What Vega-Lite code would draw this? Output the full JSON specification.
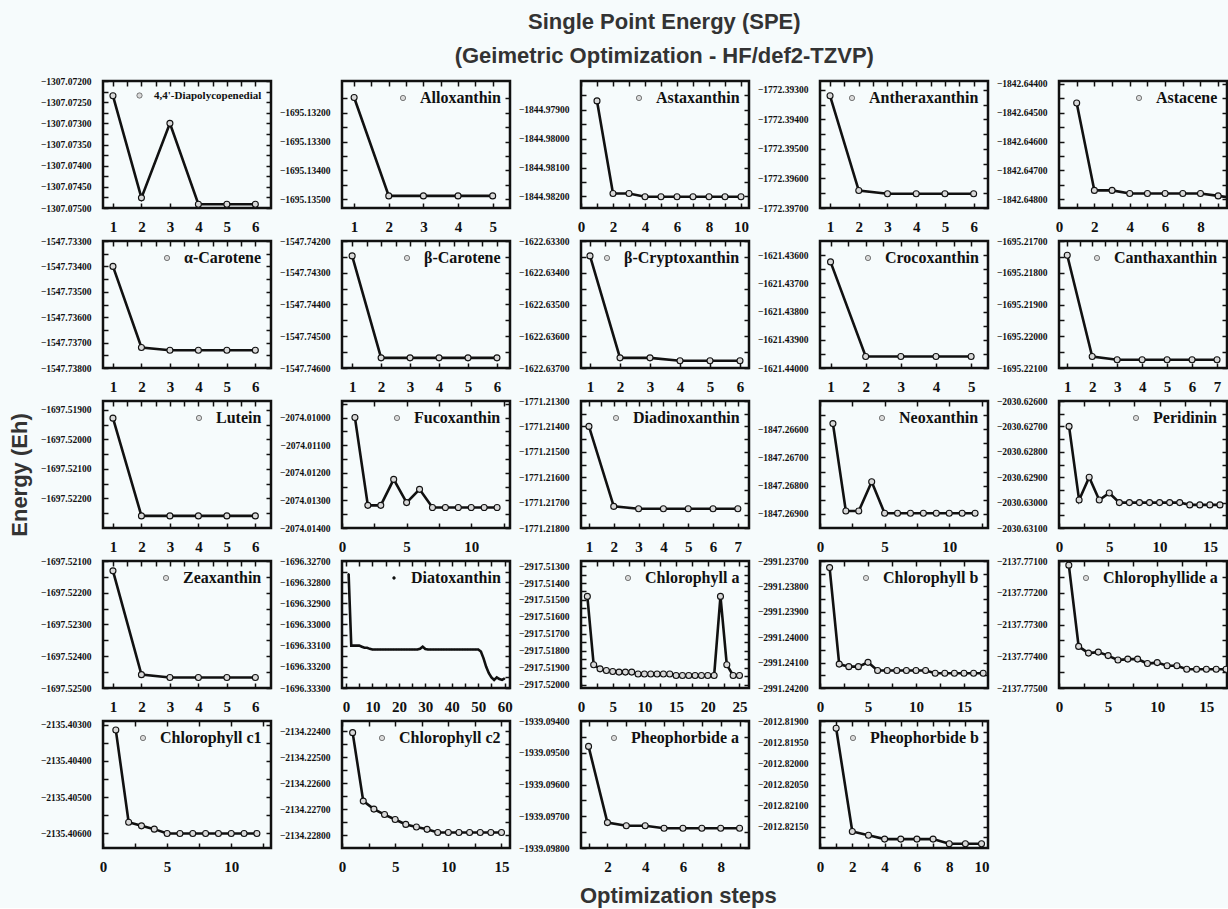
{
"$schema":"https://vega.github.io/schema/vega-lite/v6.json",
"background":"#f6fbfc",
"padding":{"left":8,"top":10,"right":0,"bottom":0},
"title":{"text":["Single Point Energy (SPE)","(Geimetric Optimization - HF/def2-TZVP)"],"fontSize":22,"lineHeight":34,"font":"Liberation Sans","fontWeight":"bold","color":"#333333","anchor":"middle","offset":7,"dx":40},
"vconcat":[{
"title":{"text":"Optimization steps","orient":"bottom","fontSize":22,"font":"Liberation Sans","fontWeight":"bold","color":"#333333","anchor":"middle","offset":11,"dx":54},
"vconcat":[{
"title":{"text":"Energy (Eh)","orient":"left","fontSize":22,"font":"Liberation Sans","fontWeight":"bold","color":"#333333","anchor":"middle","offset":7},
"columns":5,
"bounds":"flush",
"spacing":{"row":33,"column":71},
"resolve":{"scale":{"color":"independent"},"legend":{"color":"independent"}},
"concat":[
{"data":{"values":[{"s":1,"e":-1307.07235},{"s":2,"e":-1307.07476},{"s":3,"e":-1307.073},{"s":4,"e":-1307.07491},{"s":5,"e":-1307.07491},{"s":6,"e":-1307.07491}]},
"resolve":{"axis":{"x":"independent","y":"independent"}},
"layer":[
{"mark":{"type":"line","clip":true,"strokeWidth":2.6,"point":{"filled":false,"fill":"#d9d9d9","size":36,"strokeWidth":1.1}},
"encoding":{"x":{"field":"s","type":"quantitative","title":null,"scale":{"domain":[0.65,6.55],"nice":false,"zero":false},"axis":{"values":[1,1.5,2,2.5,3,3.5,4,4.5,5,5.5,6],"format":"d","labelExpr":"datum.value % 1 ? '' : datum.label"}},
"y":{"field":"e","type":"quantitative","title":null,"scale":{"domain":[-1307.075,-1307.072],"nice":false,"zero":false},"axis":{"values":[-1307.072,-1307.07225,-1307.0725,-1307.07275,-1307.073,-1307.07325,-1307.0735,-1307.07375,-1307.074,-1307.07425,-1307.0745,-1307.07475,-1307.075],"format":".5f","labelExpr":"round(datum.value*100000) % 50 ? '' : datum.label"}},
"color":{"datum":"4,4'-Diapolycopenedial","legend":{"labelFontSize":11}}}},
{"mark":{"type":"point","opacity":0},
"encoding":{"x":{"field":"s","type":"quantitative","title":null,"scale":{"domain":[0.65,6.55],"nice":false,"zero":false},"axis":{"orient":"top","values":[1,1.5,2,2.5,3,3.5,4,4.5,5,5.5,6]}},
"y":{"field":"e","type":"quantitative","title":null,"scale":{"domain":[-1307.075,-1307.072],"nice":false,"zero":false},"axis":{"orient":"right","values":[-1307.072,-1307.07225,-1307.0725,-1307.07275,-1307.073,-1307.07325,-1307.0735,-1307.07375,-1307.074,-1307.07425,-1307.0745,-1307.07475,-1307.075]}}}}]},
{"data":{"values":[{"s":1,"e":-1695.13147},{"s":2,"e":-1695.13488},{"s":3,"e":-1695.13488},{"s":4,"e":-1695.13488},{"s":5,"e":-1695.13488}]},
"resolve":{"axis":{"x":"independent","y":"independent"}},
"layer":[
{"mark":{"type":"line","clip":true,"strokeWidth":2.6,"point":{"filled":false,"fill":"#d9d9d9","size":36,"strokeWidth":1.1}},
"encoding":{"x":{"field":"s","type":"quantitative","title":null,"scale":{"domain":[0.65,5.5],"nice":false,"zero":false},"axis":{"values":[1,1.5,2,2.5,3,3.5,4,4.5,5],"format":"d","labelExpr":"datum.value % 1 ? '' : datum.label"}},
"y":{"field":"e","type":"quantitative","title":null,"scale":{"domain":[-1695.1353,-1695.1309],"nice":false,"zero":false},"axis":{"values":[-1695.1315,-1695.132,-1695.1325,-1695.133,-1695.1335,-1695.134,-1695.1345,-1695.135],"format":".5f","labelExpr":"round(datum.value*100000) % 100 ? '' : datum.label"}},
"color":{"datum":"Alloxanthin"}}},
{"mark":{"type":"point","opacity":0},
"encoding":{"x":{"field":"s","type":"quantitative","title":null,"scale":{"domain":[0.65,5.5],"nice":false,"zero":false},"axis":{"orient":"top","values":[1,1.5,2,2.5,3,3.5,4,4.5,5]}},
"y":{"field":"e","type":"quantitative","title":null,"scale":{"domain":[-1695.1353,-1695.1309],"nice":false,"zero":false},"axis":{"orient":"right","values":[-1695.1315,-1695.132,-1695.1325,-1695.133,-1695.1335,-1695.134,-1695.1345,-1695.135]}}}}]},
{"data":{"values":[{"s":1,"e":-1844.97869},{"s":2,"e":-1844.9819},{"s":3,"e":-1844.9819},{"s":4,"e":-1844.98201},{"s":5,"e":-1844.98201},{"s":6,"e":-1844.98201},{"s":7,"e":-1844.98201},{"s":8,"e":-1844.98201},{"s":9,"e":-1844.98201},{"s":10,"e":-1844.98201}]},
"resolve":{"axis":{"x":"independent","y":"independent"}},
"layer":[
{"mark":{"type":"line","clip":true,"strokeWidth":2.6,"point":{"filled":false,"fill":"#d9d9d9","size":36,"strokeWidth":1.1}},
"encoding":{"x":{"field":"s","type":"quantitative","title":null,"scale":{"domain":[0,10.5],"nice":false,"zero":false},"axis":{"values":[0,1,2,3,4,5,6,7,8,9,10],"format":"d","labelExpr":"datum.value % 2 ? '' : datum.label"}},
"y":{"field":"e","type":"quantitative","title":null,"scale":{"domain":[-1844.9824,-1844.978],"nice":false,"zero":false},"axis":{"values":[-1844.9785,-1844.979,-1844.9795,-1844.98,-1844.9805,-1844.981,-1844.9815,-1844.982],"format":".5f","labelExpr":"round(datum.value*100000) % 100 ? '' : datum.label"}},
"color":{"datum":"Astaxanthin"}}},
{"mark":{"type":"point","opacity":0},
"encoding":{"x":{"field":"s","type":"quantitative","title":null,"scale":{"domain":[0,10.5],"nice":false,"zero":false},"axis":{"orient":"top","values":[0,1,2,3,4,5,6,7,8,9,10]}},
"y":{"field":"e","type":"quantitative","title":null,"scale":{"domain":[-1844.9824,-1844.978],"nice":false,"zero":false},"axis":{"orient":"right","values":[-1844.9785,-1844.979,-1844.9795,-1844.98,-1844.9805,-1844.981,-1844.9815,-1844.982]}}}}]},
{"data":{"values":[{"s":1,"e":-1772.3932},{"s":2,"e":-1772.39641},{"s":3,"e":-1772.39652},{"s":4,"e":-1772.39652},{"s":5,"e":-1772.39652},{"s":6,"e":-1772.39652}]},
"resolve":{"axis":{"x":"independent","y":"independent"}},
"layer":[
{"mark":{"type":"line","clip":true,"strokeWidth":2.6,"point":{"filled":false,"fill":"#d9d9d9","size":36,"strokeWidth":1.1}},
"encoding":{"x":{"field":"s","type":"quantitative","title":null,"scale":{"domain":[0.65,6.5],"nice":false,"zero":false},"axis":{"values":[1,1.5,2,2.5,3,3.5,4,4.5,5,5.5,6],"format":"d","labelExpr":"datum.value % 1 ? '' : datum.label"}},
"y":{"field":"e","type":"quantitative","title":null,"scale":{"domain":[-1772.397,-1772.3927],"nice":false,"zero":false},"axis":{"values":[-1772.393,-1772.3935,-1772.394,-1772.3945,-1772.395,-1772.3955,-1772.396,-1772.3965,-1772.397],"format":".5f","labelExpr":"round(datum.value*100000) % 100 ? '' : datum.label"}},
"color":{"datum":"Antheraxanthin"}}},
{"mark":{"type":"point","opacity":0},
"encoding":{"x":{"field":"s","type":"quantitative","title":null,"scale":{"domain":[0.65,6.5],"nice":false,"zero":false},"axis":{"orient":"top","values":[1,1.5,2,2.5,3,3.5,4,4.5,5,5.5,6]}},
"y":{"field":"e","type":"quantitative","title":null,"scale":{"domain":[-1772.397,-1772.3927],"nice":false,"zero":false},"axis":{"orient":"right","values":[-1772.393,-1772.3935,-1772.394,-1772.3945,-1772.395,-1772.3955,-1772.396,-1772.3965,-1772.397]}}}}]},
{"data":{"values":[{"s":1,"e":-1842.64466},{"s":2,"e":-1842.64769},{"s":3,"e":-1842.64769},{"s":4,"e":-1842.6478},{"s":5,"e":-1842.6478},{"s":6,"e":-1842.6478},{"s":7,"e":-1842.6478},{"s":8,"e":-1842.6478},{"s":9,"e":-1842.64788},{"s":10,"e":-1842.64797}]},
"resolve":{"axis":{"x":"independent","y":"independent"}},
"layer":[
{"mark":{"type":"line","clip":true,"strokeWidth":2.6,"point":{"filled":false,"fill":"#d9d9d9","size":36,"strokeWidth":1.1}},
"encoding":{"x":{"field":"s","type":"quantitative","title":null,"scale":{"domain":[0,9.5],"nice":false,"zero":false},"axis":{"values":[0,1,2,3,4,5,6,7,8,9],"format":"d","labelExpr":"datum.value % 2 ? '' : datum.label"}},
"y":{"field":"e","type":"quantitative","title":null,"scale":{"domain":[-1842.6483,-1842.6439],"nice":false,"zero":false},"axis":{"values":[-1842.644,-1842.6445,-1842.645,-1842.6455,-1842.646,-1842.6465,-1842.647,-1842.6475,-1842.648],"format":".5f","labelExpr":"round(datum.value*100000) % 100 ? '' : datum.label"}},
"color":{"datum":"Astacene"}}},
{"mark":{"type":"point","opacity":0},
"encoding":{"x":{"field":"s","type":"quantitative","title":null,"scale":{"domain":[0,9.5],"nice":false,"zero":false},"axis":{"orient":"top","values":[0,1,2,3,4,5,6,7,8,9]}},
"y":{"field":"e","type":"quantitative","title":null,"scale":{"domain":[-1842.6483,-1842.6439],"nice":false,"zero":false},"axis":{"orient":"right","values":[-1842.644,-1842.6445,-1842.645,-1842.6455,-1842.646,-1842.6465,-1842.647,-1842.6475,-1842.648]}}}}]},
{"data":{"values":[{"s":1,"e":-1547.734},{"s":2,"e":-1547.73719},{"s":3,"e":-1547.7373},{"s":4,"e":-1547.7373},{"s":5,"e":-1547.7373},{"s":6,"e":-1547.7373}]},
"resolve":{"axis":{"x":"independent","y":"independent"}},
"layer":[
{"mark":{"type":"line","clip":true,"strokeWidth":2.6,"point":{"filled":false,"fill":"#d9d9d9","size":36,"strokeWidth":1.1}},
"encoding":{"x":{"field":"s","type":"quantitative","title":null,"scale":{"domain":[0.65,6.55],"nice":false,"zero":false},"axis":{"values":[1,1.5,2,2.5,3,3.5,4,4.5,5,5.5,6],"format":"d","labelExpr":"datum.value % 1 ? '' : datum.label"}},
"y":{"field":"e","type":"quantitative","title":null,"scale":{"domain":[-1547.738,-1547.733],"nice":false,"zero":false},"axis":{"values":[-1547.733,-1547.7335,-1547.734,-1547.7345,-1547.735,-1547.7355,-1547.736,-1547.7365,-1547.737,-1547.7375,-1547.738],"format":".5f","labelExpr":"round(datum.value*100000) % 100 ? '' : datum.label"}},
"color":{"datum":"α-Carotene"}}},
{"mark":{"type":"point","opacity":0},
"encoding":{"x":{"field":"s","type":"quantitative","title":null,"scale":{"domain":[0.65,6.55],"nice":false,"zero":false},"axis":{"orient":"top","values":[1,1.5,2,2.5,3,3.5,4,4.5,5,5.5,6]}},
"y":{"field":"e","type":"quantitative","title":null,"scale":{"domain":[-1547.738,-1547.733],"nice":false,"zero":false},"axis":{"orient":"right","values":[-1547.733,-1547.7335,-1547.734,-1547.7345,-1547.735,-1547.7355,-1547.736,-1547.7365,-1547.737,-1547.7375,-1547.738]}}}}]},
{"data":{"values":[{"s":1,"e":-1547.74247},{"s":2,"e":-1547.74568},{"s":3,"e":-1547.74568},{"s":4,"e":-1547.74568},{"s":5,"e":-1547.74568},{"s":6,"e":-1547.74568}]},
"resolve":{"axis":{"x":"independent","y":"independent"}},
"layer":[
{"mark":{"type":"line","clip":true,"strokeWidth":2.6,"point":{"filled":false,"fill":"#d9d9d9","size":36,"strokeWidth":1.1}},
"encoding":{"x":{"field":"s","type":"quantitative","title":null,"scale":{"domain":[0.65,6.45],"nice":false,"zero":false},"axis":{"values":[1,1.5,2,2.5,3,3.5,4,4.5,5,5.5,6],"format":"d","labelExpr":"datum.value % 1 ? '' : datum.label"}},
"y":{"field":"e","type":"quantitative","title":null,"scale":{"domain":[-1547.746,-1547.742],"nice":false,"zero":false},"axis":{"values":[-1547.742,-1547.7425,-1547.743,-1547.7435,-1547.744,-1547.7445,-1547.745,-1547.7455,-1547.746],"format":".5f","labelExpr":"round(datum.value*100000) % 100 ? '' : datum.label"}},
"color":{"datum":"β-Carotene"}}},
{"mark":{"type":"point","opacity":0},
"encoding":{"x":{"field":"s","type":"quantitative","title":null,"scale":{"domain":[0.65,6.45],"nice":false,"zero":false},"axis":{"orient":"top","values":[1,1.5,2,2.5,3,3.5,4,4.5,5,5.5,6]}},
"y":{"field":"e","type":"quantitative","title":null,"scale":{"domain":[-1547.746,-1547.742],"nice":false,"zero":false},"axis":{"orient":"right","values":[-1547.742,-1547.7425,-1547.743,-1547.7435,-1547.744,-1547.7445,-1547.745,-1547.7455,-1547.746]}}}}]},
{"data":{"values":[{"s":1,"e":-1622.63347},{"s":2,"e":-1622.63668},{"s":3,"e":-1622.63668},{"s":4,"e":-1622.63677},{"s":5,"e":-1622.63677},{"s":6,"e":-1622.63677}]},
"resolve":{"axis":{"x":"independent","y":"independent"}},
"layer":[
{"mark":{"type":"line","clip":true,"strokeWidth":2.6,"point":{"filled":false,"fill":"#d9d9d9","size":36,"strokeWidth":1.1}},
"encoding":{"x":{"field":"s","type":"quantitative","title":null,"scale":{"domain":[0.7,6.3],"nice":false,"zero":false},"axis":{"values":[1,1.5,2,2.5,3,3.5,4,4.5,5,5.5,6],"format":"d","labelExpr":"datum.value % 1 ? '' : datum.label"}},
"y":{"field":"e","type":"quantitative","title":null,"scale":{"domain":[-1622.637,-1622.633],"nice":false,"zero":false},"axis":{"values":[-1622.633,-1622.6335,-1622.634,-1622.6345,-1622.635,-1622.6355,-1622.636,-1622.6365,-1622.637],"format":".5f","labelExpr":"round(datum.value*100000) % 100 ? '' : datum.label"}},
"color":{"datum":"β-Cryptoxanthin"}}},
{"mark":{"type":"point","opacity":0},
"encoding":{"x":{"field":"s","type":"quantitative","title":null,"scale":{"domain":[0.7,6.3],"nice":false,"zero":false},"axis":{"orient":"top","values":[1,1.5,2,2.5,3,3.5,4,4.5,5,5.5,6]}},
"y":{"field":"e","type":"quantitative","title":null,"scale":{"domain":[-1622.637,-1622.633],"nice":false,"zero":false},"axis":{"orient":"right","values":[-1622.633,-1622.6335,-1622.634,-1622.6345,-1622.635,-1622.6355,-1622.636,-1622.6365,-1622.637]}}}}]},
{"data":{"values":[{"s":1,"e":-1621.43624},{"s":2,"e":-1621.43959},{"s":3,"e":-1621.43959},{"s":4,"e":-1621.43959},{"s":5,"e":-1621.43959}]},
"resolve":{"axis":{"x":"independent","y":"independent"}},
"layer":[
{"mark":{"type":"line","clip":true,"strokeWidth":2.6,"point":{"filled":false,"fill":"#d9d9d9","size":36,"strokeWidth":1.1}},
"encoding":{"x":{"field":"s","type":"quantitative","title":null,"scale":{"domain":[0.7,5.48],"nice":false,"zero":false},"axis":{"values":[1,1.5,2,2.5,3,3.5,4,4.5,5],"format":"d","labelExpr":"datum.value % 1 ? '' : datum.label"}},
"y":{"field":"e","type":"quantitative","title":null,"scale":{"domain":[-1621.44,-1621.4355],"nice":false,"zero":false},"axis":{"values":[-1621.436,-1621.4365,-1621.437,-1621.4375,-1621.438,-1621.4385,-1621.439,-1621.4395,-1621.44],"format":".5f","labelExpr":"round(datum.value*100000) % 100 ? '' : datum.label"}},
"color":{"datum":"Crocoxanthin"}}},
{"mark":{"type":"point","opacity":0},
"encoding":{"x":{"field":"s","type":"quantitative","title":null,"scale":{"domain":[0.7,5.48],"nice":false,"zero":false},"axis":{"orient":"top","values":[1,1.5,2,2.5,3,3.5,4,4.5,5]}},
"y":{"field":"e","type":"quantitative","title":null,"scale":{"domain":[-1621.44,-1621.4355],"nice":false,"zero":false},"axis":{"orient":"right","values":[-1621.436,-1621.4365,-1621.437,-1621.4375,-1621.438,-1621.4385,-1621.439,-1621.4395,-1621.44]}}}}]},
{"data":{"values":[{"s":1,"e":-1695.21745},{"s":2,"e":-1695.22064},{"s":3,"e":-1695.22074},{"s":4,"e":-1695.22074},{"s":5,"e":-1695.22074},{"s":6,"e":-1695.22074},{"s":7,"e":-1695.22074}]},
"resolve":{"axis":{"x":"independent","y":"independent"}},
"layer":[
{"mark":{"type":"line","clip":true,"strokeWidth":2.6,"point":{"filled":false,"fill":"#d9d9d9","size":36,"strokeWidth":1.1}},
"encoding":{"x":{"field":"s","type":"quantitative","title":null,"scale":{"domain":[0.67,7.4],"nice":false,"zero":false},"axis":{"values":[1,1.5,2,2.5,3,3.5,4,4.5,5,5.5,6,6.5,7],"format":"d","labelExpr":"datum.value % 1 ? '' : datum.label"}},
"y":{"field":"e","type":"quantitative","title":null,"scale":{"domain":[-1695.221,-1695.217],"nice":false,"zero":false},"axis":{"values":[-1695.217,-1695.2175,-1695.218,-1695.2185,-1695.219,-1695.2195,-1695.22,-1695.2205,-1695.221],"format":".5f","labelExpr":"round(datum.value*100000) % 100 ? '' : datum.label"}},
"color":{"datum":"Canthaxanthin"}}},
{"mark":{"type":"point","opacity":0},
"encoding":{"x":{"field":"s","type":"quantitative","title":null,"scale":{"domain":[0.67,7.4],"nice":false,"zero":false},"axis":{"orient":"top","values":[1,1.5,2,2.5,3,3.5,4,4.5,5,5.5,6,6.5,7]}},
"y":{"field":"e","type":"quantitative","title":null,"scale":{"domain":[-1695.221,-1695.217],"nice":false,"zero":false},"axis":{"orient":"right","values":[-1695.217,-1695.2175,-1695.218,-1695.2185,-1695.219,-1695.2195,-1695.22,-1695.2205,-1695.221]}}}}]},
{"data":{"values":[{"s":1,"e":-1697.51928},{"s":2,"e":-1697.52259},{"s":3,"e":-1697.52259},{"s":4,"e":-1697.52259},{"s":5,"e":-1697.52259},{"s":6,"e":-1697.52259}]},
"resolve":{"axis":{"x":"independent","y":"independent"}},
"layer":[
{"mark":{"type":"line","clip":true,"strokeWidth":2.6,"point":{"filled":false,"fill":"#d9d9d9","size":36,"strokeWidth":1.1}},
"encoding":{"x":{"field":"s","type":"quantitative","title":null,"scale":{"domain":[0.65,6.55],"nice":false,"zero":false},"axis":{"values":[1,1.5,2,2.5,3,3.5,4,4.5,5,5.5,6],"format":"d","labelExpr":"datum.value % 1 ? '' : datum.label"}},
"y":{"field":"e","type":"quantitative","title":null,"scale":{"domain":[-1697.523,-1697.5187],"nice":false,"zero":false},"axis":{"values":[-1697.519,-1697.5195,-1697.52,-1697.5205,-1697.521,-1697.5215,-1697.522,-1697.5225],"format":".5f","labelExpr":"round(datum.value*100000) % 100 ? '' : datum.label"}},
"color":{"datum":"Lutein"}}},
{"mark":{"type":"point","opacity":0},
"encoding":{"x":{"field":"s","type":"quantitative","title":null,"scale":{"domain":[0.65,6.55],"nice":false,"zero":false},"axis":{"orient":"top","values":[1,1.5,2,2.5,3,3.5,4,4.5,5,5.5,6]}},
"y":{"field":"e","type":"quantitative","title":null,"scale":{"domain":[-1697.523,-1697.5187],"nice":false,"zero":false},"axis":{"orient":"right","values":[-1697.519,-1697.5195,-1697.52,-1697.5205,-1697.521,-1697.5215,-1697.522,-1697.5225]}}}}]},
{"data":{"values":[{"s":1,"e":-2074.01},{"s":2,"e":-2074.01318},{"s":3,"e":-2074.01318},{"s":4,"e":-2074.01224},{"s":5,"e":-2074.01308},{"s":6,"e":-2074.0126},{"s":7,"e":-2074.01326},{"s":8,"e":-2074.01326},{"s":9,"e":-2074.01326},{"s":10,"e":-2074.01326},{"s":11,"e":-2074.01326},{"s":12,"e":-2074.01326}]},
"resolve":{"axis":{"x":"independent","y":"independent"}},
"layer":[
{"mark":{"type":"line","clip":true,"strokeWidth":2.6,"point":{"filled":false,"fill":"#d9d9d9","size":36,"strokeWidth":1.1}},
"encoding":{"x":{"field":"s","type":"quantitative","title":null,"scale":{"domain":[0,13],"nice":false,"zero":false},"axis":{"values":[0,2.5,5,7.5,10,12.5],"format":"d","labelExpr":"datum.value % 5 ? '' : datum.label"}},
"y":{"field":"e","type":"quantitative","title":null,"scale":{"domain":[-2074.014,-2074.0094],"nice":false,"zero":false},"axis":{"values":[-2074.0095,-2074.01,-2074.0105,-2074.011,-2074.0115,-2074.012,-2074.0125,-2074.013,-2074.0135,-2074.014],"format":".5f","labelExpr":"round(datum.value*100000) % 100 ? '' : datum.label"}},
"color":{"datum":"Fucoxanthin"}}},
{"mark":{"type":"point","opacity":0},
"encoding":{"x":{"field":"s","type":"quantitative","title":null,"scale":{"domain":[0,13],"nice":false,"zero":false},"axis":{"orient":"top","values":[0,2.5,5,7.5,10,12.5]}},
"y":{"field":"e","type":"quantitative","title":null,"scale":{"domain":[-2074.014,-2074.0094],"nice":false,"zero":false},"axis":{"orient":"right","values":[-2074.0095,-2074.01,-2074.0105,-2074.011,-2074.0115,-2074.012,-2074.0125,-2074.013,-2074.0135,-2074.014]}}}}]},
{"data":{"values":[{"s":1,"e":-1771.214},{"s":2,"e":-1771.21715},{"s":3,"e":-1771.21724},{"s":4,"e":-1771.21724},{"s":5,"e":-1771.21724},{"s":6,"e":-1771.21724},{"s":7,"e":-1771.21724}]},
"resolve":{"axis":{"x":"independent","y":"independent"}},
"layer":[
{"mark":{"type":"line","clip":true,"strokeWidth":2.6,"point":{"filled":false,"fill":"#d9d9d9","size":36,"strokeWidth":1.1}},
"encoding":{"x":{"field":"s","type":"quantitative","title":null,"scale":{"domain":[0.68,7.45],"nice":false,"zero":false},"axis":{"values":[1,1.5,2,2.5,3,3.5,4,4.5,5,5.5,6,6.5,7],"format":"d","labelExpr":"datum.value % 1 ? '' : datum.label"}},
"y":{"field":"e","type":"quantitative","title":null,"scale":{"domain":[-1771.218,-1771.213],"nice":false,"zero":false},"axis":{"values":[-1771.213,-1771.2135,-1771.214,-1771.2145,-1771.215,-1771.2155,-1771.216,-1771.2165,-1771.217,-1771.2175,-1771.218],"format":".5f","labelExpr":"round(datum.value*100000) % 100 ? '' : datum.label"}},
"color":{"datum":"Diadinoxanthin"}}},
{"mark":{"type":"point","opacity":0},
"encoding":{"x":{"field":"s","type":"quantitative","title":null,"scale":{"domain":[0.68,7.45],"nice":false,"zero":false},"axis":{"orient":"top","values":[1,1.5,2,2.5,3,3.5,4,4.5,5,5.5,6,6.5,7]}},
"y":{"field":"e","type":"quantitative","title":null,"scale":{"domain":[-1771.218,-1771.213],"nice":false,"zero":false},"axis":{"orient":"right","values":[-1771.213,-1771.2135,-1771.214,-1771.2145,-1771.215,-1771.2155,-1771.216,-1771.2165,-1771.217,-1771.2175,-1771.218]}}}}]},
{"data":{"values":[{"s":1,"e":-1847.2658},{"s":2,"e":-1847.2689},{"s":3,"e":-1847.2689},{"s":4,"e":-1847.26786},{"s":5,"e":-1847.26898},{"s":6,"e":-1847.26898},{"s":7,"e":-1847.26898},{"s":8,"e":-1847.26898},{"s":9,"e":-1847.26898},{"s":10,"e":-1847.26898},{"s":11,"e":-1847.26898},{"s":12,"e":-1847.26898}]},
"resolve":{"axis":{"x":"independent","y":"independent"}},
"layer":[
{"mark":{"type":"line","clip":true,"strokeWidth":2.6,"point":{"filled":false,"fill":"#d9d9d9","size":36,"strokeWidth":1.1}},
"encoding":{"x":{"field":"s","type":"quantitative","title":null,"scale":{"domain":[0,13],"nice":false,"zero":false},"axis":{"values":[0,2.5,5,7.5,10,12.5],"format":"d","labelExpr":"datum.value % 5 ? '' : datum.label"}},
"y":{"field":"e","type":"quantitative","title":null,"scale":{"domain":[-1847.2695,-1847.265],"nice":false,"zero":false},"axis":{"values":[-1847.2655,-1847.266,-1847.2665,-1847.267,-1847.2675,-1847.268,-1847.2685,-1847.269],"format":".5f","labelExpr":"round(datum.value*100000) % 100 ? '' : datum.label"}},
"color":{"datum":"Neoxanthin"}}},
{"mark":{"type":"point","opacity":0},
"encoding":{"x":{"field":"s","type":"quantitative","title":null,"scale":{"domain":[0,13],"nice":false,"zero":false},"axis":{"orient":"top","values":[0,2.5,5,7.5,10,12.5]}},
"y":{"field":"e","type":"quantitative","title":null,"scale":{"domain":[-1847.2695,-1847.265],"nice":false,"zero":false},"axis":{"orient":"right","values":[-1847.2655,-1847.266,-1847.2665,-1847.267,-1847.2675,-1847.268,-1847.2685,-1847.269]}}}}]},
{"data":{"values":[{"s":1,"e":-2030.627},{"s":2,"e":-2030.6299},{"s":3,"e":-2030.629},{"s":4,"e":-2030.6299},{"s":5,"e":-2030.62962},{"s":6,"e":-2030.63},{"s":7,"e":-2030.63},{"s":8,"e":-2030.63},{"s":9,"e":-2030.63},{"s":10,"e":-2030.63},{"s":11,"e":-2030.63},{"s":12,"e":-2030.63},{"s":13,"e":-2030.63009},{"s":14,"e":-2030.63009},{"s":15,"e":-2030.63009},{"s":16,"e":-2030.63009}]},
"resolve":{"axis":{"x":"independent","y":"independent"}},
"layer":[
{"mark":{"type":"line","clip":true,"strokeWidth":2.6,"point":{"filled":false,"fill":"#d9d9d9","size":36,"strokeWidth":1.1}},
"encoding":{"x":{"field":"s","type":"quantitative","title":null,"scale":{"domain":[0,16.7],"nice":false,"zero":false},"axis":{"values":[0,2.5,5,7.5,10,12.5,15],"format":"d","labelExpr":"datum.value % 5 ? '' : datum.label"}},
"y":{"field":"e","type":"quantitative","title":null,"scale":{"domain":[-2030.631,-2030.626],"nice":false,"zero":false},"axis":{"values":[-2030.626,-2030.6265,-2030.627,-2030.6275,-2030.628,-2030.6285,-2030.629,-2030.6295,-2030.63,-2030.6305,-2030.631],"format":".5f","labelExpr":"round(datum.value*100000) % 100 ? '' : datum.label"}},
"color":{"datum":"Peridinin"}}},
{"mark":{"type":"point","opacity":0},
"encoding":{"x":{"field":"s","type":"quantitative","title":null,"scale":{"domain":[0,16.7],"nice":false,"zero":false},"axis":{"orient":"top","values":[0,2.5,5,7.5,10,12.5,15]}},
"y":{"field":"e","type":"quantitative","title":null,"scale":{"domain":[-2030.631,-2030.626],"nice":false,"zero":false},"axis":{"orient":"right","values":[-2030.626,-2030.6265,-2030.627,-2030.6275,-2030.628,-2030.6285,-2030.629,-2030.6295,-2030.63,-2030.6305,-2030.631]}}}}]},
{"data":{"values":[{"s":1,"e":-1697.52131},{"s":2,"e":-1697.52458},{"s":3,"e":-1697.52467},{"s":4,"e":-1697.52467},{"s":5,"e":-1697.52467},{"s":6,"e":-1697.52467}]},
"resolve":{"axis":{"x":"independent","y":"independent"}},
"layer":[
{"mark":{"type":"line","clip":true,"strokeWidth":2.6,"point":{"filled":false,"fill":"#d9d9d9","size":36,"strokeWidth":1.1}},
"encoding":{"x":{"field":"s","type":"quantitative","title":null,"scale":{"domain":[0.65,6.55],"nice":false,"zero":false},"axis":{"values":[1,1.5,2,2.5,3,3.5,4,4.5,5,5.5,6],"format":"d","labelExpr":"datum.value % 1 ? '' : datum.label"}},
"y":{"field":"e","type":"quantitative","title":null,"scale":{"domain":[-1697.525,-1697.521],"nice":false,"zero":false},"axis":{"values":[-1697.521,-1697.5215,-1697.522,-1697.5225,-1697.523,-1697.5235,-1697.524,-1697.5245,-1697.525],"format":".5f","labelExpr":"round(datum.value*100000) % 100 ? '' : datum.label"}},
"color":{"datum":"Zeaxanthin"}}},
{"mark":{"type":"point","opacity":0},
"encoding":{"x":{"field":"s","type":"quantitative","title":null,"scale":{"domain":[0.65,6.55],"nice":false,"zero":false},"axis":{"orient":"top","values":[1,1.5,2,2.5,3,3.5,4,4.5,5,5.5,6]}},
"y":{"field":"e","type":"quantitative","title":null,"scale":{"domain":[-1697.525,-1697.521],"nice":false,"zero":false},"axis":{"orient":"right","values":[-1697.521,-1697.5215,-1697.522,-1697.5225,-1697.523,-1697.5235,-1697.524,-1697.5245,-1697.525]}}}}]},
{"data":{"values":[{"s":1,"e":-1696.3276},{"s":2,"e":-1696.331},{"s":3,"e":-1696.331},{"s":4,"e":-1696.331},{"s":5,"e":-1696.331},{"s":6,"e":-1696.33105},{"s":7,"e":-1696.3311},{"s":8,"e":-1696.3311},{"s":9,"e":-1696.33115},{"s":10,"e":-1696.33118},{"s":11,"e":-1696.33118},{"s":12,"e":-1696.33118},{"s":13,"e":-1696.33118},{"s":14,"e":-1696.33118},{"s":15,"e":-1696.33118},{"s":16,"e":-1696.33118},{"s":17,"e":-1696.33118},{"s":18,"e":-1696.33118},{"s":19,"e":-1696.33118},{"s":20,"e":-1696.33118},{"s":21,"e":-1696.33118},{"s":22,"e":-1696.33118},{"s":23,"e":-1696.33118},{"s":24,"e":-1696.33118},{"s":25,"e":-1696.33118},{"s":26,"e":-1696.33118},{"s":27,"e":-1696.33118},{"s":28,"e":-1696.33115},{"s":29,"e":-1696.33105},{"s":30,"e":-1696.33116},{"s":31,"e":-1696.33118},{"s":32,"e":-1696.33118},{"s":33,"e":-1696.33118},{"s":34,"e":-1696.33118},{"s":35,"e":-1696.33118},{"s":36,"e":-1696.33118},{"s":37,"e":-1696.33118},{"s":38,"e":-1696.33118},{"s":39,"e":-1696.33118},{"s":40,"e":-1696.33118},{"s":41,"e":-1696.33118},{"s":42,"e":-1696.33118},{"s":43,"e":-1696.33118},{"s":44,"e":-1696.33118},{"s":45,"e":-1696.33118},{"s":46,"e":-1696.33118},{"s":47,"e":-1696.33118},{"s":48,"e":-1696.33118},{"s":49,"e":-1696.33118},{"s":50,"e":-1696.33118},{"s":51,"e":-1696.33128},{"s":52,"e":-1696.3316},{"s":53,"e":-1696.332},{"s":54,"e":-1696.3323},{"s":55,"e":-1696.3325},{"s":56,"e":-1696.33262},{"s":57,"e":-1696.3325},{"s":58,"e":-1696.33258},{"s":59,"e":-1696.33262},{"s":60,"e":-1696.33255}]},
"resolve":{"axis":{"x":"independent","y":"independent"}},
"layer":[
{"mark":{"type":"line","clip":true,"strokeWidth":2.6,"point":{"filled":true,"fill":"#111111","size":2,"strokeWidth":0}},
"encoding":{"x":{"field":"s","type":"quantitative","title":null,"scale":{"domain":[-1.5,62],"nice":false,"zero":false},"axis":{"values":[0,5,10,15,20,25,30,35,40,45,50,55,60],"format":"d","labelExpr":"datum.value % 10 ? '' : datum.label"}},
"y":{"field":"e","type":"quantitative","title":null,"scale":{"domain":[-1696.333,-1696.327],"nice":false,"zero":false},"axis":{"values":[-1696.327,-1696.3275,-1696.328,-1696.3285,-1696.329,-1696.3295,-1696.33,-1696.3305,-1696.331,-1696.3315,-1696.332,-1696.3325,-1696.333],"format":".5f","labelExpr":"round(datum.value*100000) % 100 ? '' : datum.label"}},
"color":{"datum":"Diatoxanthin","legend":{"symbolSize":8}}}},
{"mark":{"type":"point","opacity":0},
"encoding":{"x":{"field":"s","type":"quantitative","title":null,"scale":{"domain":[-1.5,62],"nice":false,"zero":false},"axis":{"orient":"top","values":[0,5,10,15,20,25,30,35,40,45,50,55,60]}},
"y":{"field":"e","type":"quantitative","title":null,"scale":{"domain":[-1696.333,-1696.327],"nice":false,"zero":false},"axis":{"orient":"right","values":[-1696.327,-1696.3275,-1696.328,-1696.3285,-1696.329,-1696.3295,-1696.33,-1696.3305,-1696.331,-1696.3315,-1696.332,-1696.3325,-1696.333]}}}}]},
{"data":{"values":[{"s":1,"e":-2917.51479},{"s":2,"e":-2917.51883},{"s":3,"e":-2917.51907},{"s":4,"e":-2917.51917},{"s":5,"e":-2917.51923},{"s":6,"e":-2917.51926},{"s":7,"e":-2917.51926},{"s":8,"e":-2917.51926},{"s":9,"e":-2917.51937},{"s":10,"e":-2917.51937},{"s":11,"e":-2917.51937},{"s":12,"e":-2917.51937},{"s":13,"e":-2917.51937},{"s":14,"e":-2917.51937},{"s":15,"e":-2917.51946},{"s":16,"e":-2917.51946},{"s":17,"e":-2917.51946},{"s":18,"e":-2917.51946},{"s":19,"e":-2917.51946},{"s":20,"e":-2917.51946},{"s":21,"e":-2917.51946},{"s":22,"e":-2917.51479},{"s":23,"e":-2917.51883},{"s":24,"e":-2917.51946},{"s":25,"e":-2917.51946}]},
"resolve":{"axis":{"x":"independent","y":"independent"}},
"layer":[
{"mark":{"type":"line","clip":true,"strokeWidth":2.6,"point":{"filled":false,"fill":"#d9d9d9","size":36,"strokeWidth":1.1}},
"encoding":{"x":{"field":"s","type":"quantitative","title":null,"scale":{"domain":[0,26.5],"nice":false,"zero":false},"axis":{"values":[0,2.5,5,7.5,10,12.5,15,17.5,20,22.5,25],"format":"d","labelExpr":"datum.value % 5 ? '' : datum.label"}},
"y":{"field":"e","type":"quantitative","title":null,"scale":{"domain":[-2917.5202,-2917.5127],"nice":false,"zero":false},"axis":{"values":[-2917.513,-2917.5135,-2917.514,-2917.5145,-2917.515,-2917.5155,-2917.516,-2917.5165,-2917.517,-2917.5175,-2917.518,-2917.5185,-2917.519,-2917.5195,-2917.52],"format":".5f","labelExpr":"round(datum.value*100000) % 100 ? '' : datum.label"}},
"color":{"datum":"Chlorophyll a"}}},
{"mark":{"type":"point","opacity":0},
"encoding":{"x":{"field":"s","type":"quantitative","title":null,"scale":{"domain":[0,26.5],"nice":false,"zero":false},"axis":{"orient":"top","values":[0,2.5,5,7.5,10,12.5,15,17.5,20,22.5,25]}},
"y":{"field":"e","type":"quantitative","title":null,"scale":{"domain":[-2917.5202,-2917.5127],"nice":false,"zero":false},"axis":{"orient":"right","values":[-2917.513,-2917.5135,-2917.514,-2917.5145,-2917.515,-2917.5155,-2917.516,-2917.5165,-2917.517,-2917.5175,-2917.518,-2917.5185,-2917.519,-2917.5195,-2917.52]}}}}]},
{"data":{"values":[{"s":1,"e":-2991.23726},{"s":2,"e":-2991.24106},{"s":3,"e":-2991.24116},{"s":4,"e":-2991.24116},{"s":5,"e":-2991.24099},{"s":6,"e":-2991.24131},{"s":7,"e":-2991.24131},{"s":8,"e":-2991.24131},{"s":9,"e":-2991.24131},{"s":10,"e":-2991.24131},{"s":11,"e":-2991.24131},{"s":12,"e":-2991.24142},{"s":13,"e":-2991.24142},{"s":14,"e":-2991.24142},{"s":15,"e":-2991.24142},{"s":16,"e":-2991.24142},{"s":17,"e":-2991.24142}]},
"resolve":{"axis":{"x":"independent","y":"independent"}},
"layer":[
{"mark":{"type":"line","clip":true,"strokeWidth":2.6,"point":{"filled":false,"fill":"#d9d9d9","size":36,"strokeWidth":1.1}},
"encoding":{"x":{"field":"s","type":"quantitative","title":null,"scale":{"domain":[0,17.5],"nice":false,"zero":false},"axis":{"values":[0,2.5,5,7.5,10,12.5,15],"format":"d","labelExpr":"datum.value % 5 ? '' : datum.label"}},
"y":{"field":"e","type":"quantitative","title":null,"scale":{"domain":[-2991.242,-2991.237],"nice":false,"zero":false},"axis":{"values":[-2991.237,-2991.2375,-2991.238,-2991.2385,-2991.239,-2991.2395,-2991.24,-2991.2405,-2991.241,-2991.2415,-2991.242],"format":".5f","labelExpr":"round(datum.value*100000) % 100 ? '' : datum.label"}},
"color":{"datum":"Chlorophyll b"}}},
{"mark":{"type":"point","opacity":0},
"encoding":{"x":{"field":"s","type":"quantitative","title":null,"scale":{"domain":[0,17.5],"nice":false,"zero":false},"axis":{"orient":"top","values":[0,2.5,5,7.5,10,12.5,15]}},
"y":{"field":"e","type":"quantitative","title":null,"scale":{"domain":[-2991.242,-2991.237],"nice":false,"zero":false},"axis":{"orient":"right","values":[-2991.237,-2991.2375,-2991.238,-2991.2385,-2991.239,-2991.2395,-2991.24,-2991.2405,-2991.241,-2991.2415,-2991.242]}}}}]},
{"data":{"values":[{"s":1,"e":-2137.77113},{"s":2,"e":-2137.77369},{"s":3,"e":-2137.7739},{"s":4,"e":-2137.77387},{"s":5,"e":-2137.77398},{"s":6,"e":-2137.77412},{"s":7,"e":-2137.77409},{"s":8,"e":-2137.77409},{"s":9,"e":-2137.77423},{"s":10,"e":-2137.7742},{"s":11,"e":-2137.7743},{"s":12,"e":-2137.7743},{"s":13,"e":-2137.77441},{"s":14,"e":-2137.77441},{"s":15,"e":-2137.77441},{"s":16,"e":-2137.77441},{"s":17,"e":-2137.77441},{"s":18,"e":-2137.77441}]},
"resolve":{"axis":{"x":"independent","y":"independent"}},
"layer":[
{"mark":{"type":"line","clip":true,"strokeWidth":2.6,"point":{"filled":false,"fill":"#d9d9d9","size":36,"strokeWidth":1.1}},
"encoding":{"x":{"field":"s","type":"quantitative","title":null,"scale":{"domain":[0,17.1],"nice":false,"zero":false},"axis":{"values":[0,2.5,5,7.5,10,12.5,15],"format":"d","labelExpr":"datum.value % 5 ? '' : datum.label"}},
"y":{"field":"e","type":"quantitative","title":null,"scale":{"domain":[-2137.775,-2137.771],"nice":false,"zero":false},"axis":{"values":[-2137.771,-2137.7715,-2137.772,-2137.7725,-2137.773,-2137.7735,-2137.774,-2137.7745,-2137.775],"format":".5f","labelExpr":"round(datum.value*100000) % 100 ? '' : datum.label"}},
"color":{"datum":"Chlorophyllide a"}}},
{"mark":{"type":"point","opacity":0},
"encoding":{"x":{"field":"s","type":"quantitative","title":null,"scale":{"domain":[0,17.1],"nice":false,"zero":false},"axis":{"orient":"top","values":[0,2.5,5,7.5,10,12.5,15]}},
"y":{"field":"e","type":"quantitative","title":null,"scale":{"domain":[-2137.775,-2137.771],"nice":false,"zero":false},"axis":{"orient":"right","values":[-2137.771,-2137.7715,-2137.772,-2137.7725,-2137.773,-2137.7735,-2137.774,-2137.7745,-2137.775]}}}}]},
{"data":{"values":[{"s":1,"e":-2135.40315},{"s":2,"e":-2135.40569},{"s":3,"e":-2135.40579},{"s":4,"e":-2135.40588},{"s":5,"e":-2135.406},{"s":6,"e":-2135.406},{"s":7,"e":-2135.406},{"s":8,"e":-2135.406},{"s":9,"e":-2135.406},{"s":10,"e":-2135.406},{"s":11,"e":-2135.406},{"s":12,"e":-2135.406}]},
"resolve":{"axis":{"x":"independent","y":"independent"}},
"layer":[
{"mark":{"type":"line","clip":true,"strokeWidth":2.6,"point":{"filled":false,"fill":"#d9d9d9","size":36,"strokeWidth":1.1}},
"encoding":{"x":{"field":"s","type":"quantitative","title":null,"scale":{"domain":[0,13.1],"nice":false,"zero":false},"axis":{"values":[0,2.5,5,7.5,10,12.5],"format":"d","labelExpr":"datum.value % 5 ? '' : datum.label"}},
"y":{"field":"e","type":"quantitative","title":null,"scale":{"domain":[-2135.4064,-2135.4029],"nice":false,"zero":false},"axis":{"values":[-2135.403,-2135.4035,-2135.404,-2135.4045,-2135.405,-2135.4055,-2135.406],"format":".5f","labelExpr":"round(datum.value*100000) % 100 ? '' : datum.label"}},
"color":{"datum":"Chlorophyll c1"}}},
{"mark":{"type":"point","opacity":0},
"encoding":{"x":{"field":"s","type":"quantitative","title":null,"scale":{"domain":[0,13.1],"nice":false,"zero":false},"axis":{"orient":"top","values":[0,2.5,5,7.5,10,12.5]}},
"y":{"field":"e","type":"quantitative","title":null,"scale":{"domain":[-2135.4064,-2135.4029],"nice":false,"zero":false},"axis":{"orient":"right","values":[-2135.403,-2135.4035,-2135.404,-2135.4045,-2135.405,-2135.4055,-2135.406]}}}}]},
{"data":{"values":[{"s":1,"e":-2134.22405},{"s":2,"e":-2134.22669},{"s":3,"e":-2134.227},{"s":4,"e":-2134.22721},{"s":5,"e":-2134.2274},{"s":6,"e":-2134.22759},{"s":7,"e":-2134.22769},{"s":8,"e":-2134.22778},{"s":9,"e":-2134.2279},{"s":10,"e":-2134.2279},{"s":11,"e":-2134.2279},{"s":12,"e":-2134.2279},{"s":13,"e":-2134.2279},{"s":14,"e":-2134.2279},{"s":15,"e":-2134.2279}]},
"resolve":{"axis":{"x":"independent","y":"independent"}},
"layer":[
{"mark":{"type":"line","clip":true,"strokeWidth":2.6,"point":{"filled":false,"fill":"#d9d9d9","size":36,"strokeWidth":1.1}},
"encoding":{"x":{"field":"s","type":"quantitative","title":null,"scale":{"domain":[0,15.8],"nice":false,"zero":false},"axis":{"values":[0,2.5,5,7.5,10,12.5,15],"format":"d","labelExpr":"datum.value % 5 ? '' : datum.label"}},
"y":{"field":"e","type":"quantitative","title":null,"scale":{"domain":[-2134.2285,-2134.2236],"nice":false,"zero":false},"axis":{"values":[-2134.224,-2134.2245,-2134.225,-2134.2255,-2134.226,-2134.2265,-2134.227,-2134.2275,-2134.228],"format":".5f","labelExpr":"round(datum.value*100000) % 100 ? '' : datum.label"}},
"color":{"datum":"Chlorophyll c2"}}},
{"mark":{"type":"point","opacity":0},
"encoding":{"x":{"field":"s","type":"quantitative","title":null,"scale":{"domain":[0,15.8],"nice":false,"zero":false},"axis":{"orient":"top","values":[0,2.5,5,7.5,10,12.5,15]}},
"y":{"field":"e","type":"quantitative","title":null,"scale":{"domain":[-2134.2285,-2134.2236],"nice":false,"zero":false},"axis":{"orient":"right","values":[-2134.224,-2134.2245,-2134.225,-2134.2255,-2134.226,-2134.2265,-2134.227,-2134.2275,-2134.228]}}}}]},
{"data":{"values":[{"s":1,"e":-1939.0948},{"s":2,"e":-1939.0972},{"s":3,"e":-1939.0973},{"s":4,"e":-1939.0973},{"s":5,"e":-1939.09738},{"s":6,"e":-1939.09738},{"s":7,"e":-1939.09738},{"s":8,"e":-1939.09738},{"s":9,"e":-1939.09738}]},
"resolve":{"axis":{"x":"independent","y":"independent"}},
"layer":[
{"mark":{"type":"line","clip":true,"strokeWidth":2.6,"point":{"filled":false,"fill":"#d9d9d9","size":36,"strokeWidth":1.1}},
"encoding":{"x":{"field":"s","type":"quantitative","title":null,"scale":{"domain":[0.6,9.5],"nice":false,"zero":false},"axis":{"values":[1,2,3,4,5,6,7,8,9],"format":"d","labelExpr":"datum.value % 2 ? '' : datum.label"}},
"y":{"field":"e","type":"quantitative","title":null,"scale":{"domain":[-1939.098,-1939.094],"nice":false,"zero":false},"axis":{"values":[-1939.094,-1939.0945,-1939.095,-1939.0955,-1939.096,-1939.0965,-1939.097,-1939.0975,-1939.098],"format":".5f","labelExpr":"round(datum.value*100000) % 100 ? '' : datum.label"}},
"color":{"datum":"Pheophorbide a"}}},
{"mark":{"type":"point","opacity":0},
"encoding":{"x":{"field":"s","type":"quantitative","title":null,"scale":{"domain":[0.6,9.5],"nice":false,"zero":false},"axis":{"orient":"top","values":[1,2,3,4,5,6,7,8,9]}},
"y":{"field":"e","type":"quantitative","title":null,"scale":{"domain":[-1939.098,-1939.094],"nice":false,"zero":false},"axis":{"orient":"right","values":[-1939.094,-1939.0945,-1939.095,-1939.0955,-1939.096,-1939.0965,-1939.097,-1939.0975,-1939.098]}}}}]},
{"data":{"values":[{"s":1,"e":-2012.81917},{"s":2,"e":-2012.82161},{"s":3,"e":-2012.8217},{"s":4,"e":-2012.82179},{"s":5,"e":-2012.82179},{"s":6,"e":-2012.82179},{"s":7,"e":-2012.82179},{"s":8,"e":-2012.8219},{"s":9,"e":-2012.8219},{"s":10,"e":-2012.8219}]},
"resolve":{"axis":{"x":"independent","y":"independent"}},
"layer":[
{"mark":{"type":"line","clip":true,"strokeWidth":2.6,"point":{"filled":false,"fill":"#d9d9d9","size":36,"strokeWidth":1.1}},
"encoding":{"x":{"field":"s","type":"quantitative","title":null,"scale":{"domain":[0,10.4],"nice":false,"zero":false},"axis":{"values":[0,1,2,3,4,5,6,7,8,9,10],"format":"d","labelExpr":"datum.value % 2 ? '' : datum.label"}},
"y":{"field":"e","type":"quantitative","title":null,"scale":{"domain":[-2012.822,-2012.819],"nice":false,"zero":false},"axis":{"values":[-2012.819,-2012.81925,-2012.8195,-2012.81975,-2012.82,-2012.82025,-2012.8205,-2012.82075,-2012.821,-2012.82125,-2012.8215,-2012.82175],"format":".5f","labelExpr":"round(datum.value*100000) % 50 ? '' : datum.label"}},
"color":{"datum":"Pheophorbide b"}}},
{"mark":{"type":"point","opacity":0},
"encoding":{"x":{"field":"s","type":"quantitative","title":null,"scale":{"domain":[0,10.4],"nice":false,"zero":false},"axis":{"orient":"top","values":[0,1,2,3,4,5,6,7,8,9,10]}},
"y":{"field":"e","type":"quantitative","title":null,"scale":{"domain":[-2012.822,-2012.819],"nice":false,"zero":false},"axis":{"orient":"right","values":[-2012.819,-2012.81925,-2012.8195,-2012.81975,-2012.82,-2012.82025,-2012.8205,-2012.82075,-2012.821,-2012.82125,-2012.8215,-2012.82175]}}}}]}
]
}]
}],
"config":{
"view":{"continuousWidth":168,"continuousHeight":127,"stroke":"#111111","strokeWidth":2.5,"fill":"#f6fbfc"},
"range":{"category":["#111111"]},
"axis":{"domain":false,"grid":false,"ticks":true,"tickColor":"#111111","tickWidth":1.5,"tickSize":-5,"labelFont":"Liberation Serif","labelFontWeight":"bold","labelColor":"#111111","labelFlush":false,"labelOverlap":false},
"axisX":{"labelFontSize":15,"labelPadding":16,"minExtent":25,"maxExtent":25},
"axisY":{"labelFontSize":9.5,"labelPadding":17,"minExtent":63,"maxExtent":63},
"axisTop":{"labels":false,"minExtent":0,"maxExtent":0},
"axisRight":{"labels":false,"minExtent":0,"maxExtent":0},
"legend":{"orient":"top-right","offset":9,"padding":0,"title":null,"labelFont":"Liberation Serif","labelFontWeight":"bold","labelFontSize":16,"labelColor":"#111111","symbolType":"circle","symbolSize":28,"symbolFillColor":"#666666","symbolStrokeColor":"#666666","symbolStrokeWidth":0.5,"labelOffset":9}
}
}
